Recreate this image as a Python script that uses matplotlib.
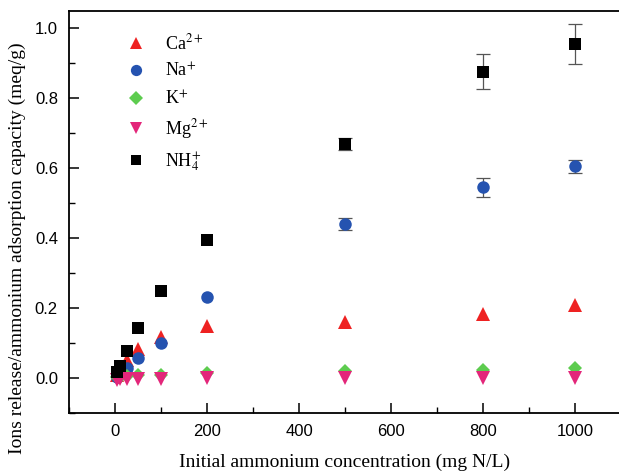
import matplotlib
matplotlib.use("Agg")
import matplotlib.pyplot as plt
from matplotlib.ticker import MultipleLocator

plt.rcParams['mathtext.fontset'] = 'stix'

# initial ammonium concentration (mg N/L)
conc = [5, 10, 25, 50, 100, 200, 500, 800, 1000]

ca = [0.010, 0.022, 0.052, 0.084, 0.117, 0.150, 0.162, 0.184, 0.209]
na = [0.005, 0.012, 0.029, 0.057, 0.102, 0.231, 0.441, 0.545, 0.605]
k = [0.003, 0.004, 0.006, 0.008, 0.008, 0.014, 0.022, 0.025, 0.028]
mg = [-0.004, -0.003, -0.002, -0.002, -0.001, 0.000, 0.000, 0.001, 0.002]
nh4 = [0.019, 0.034, 0.079, 0.143, 0.249, 0.395, 0.669, 0.876, 0.955]

# standard deviations (only visible at the three highest concentrations)
err_conc = [500, 800, 1000]
na_err = [0.018, 0.026, 0.019]
nh4_err = [0.018, 0.051, 0.058]

series = [
    (ca, None, '^', 9.5, '#ee2222', r'Ca$^{2+}$'),
    (na, na_err, 'o', 9.0, '#2553b0', r'Na$^{+}$'),
    (k, None, 'D', 7.5, '#5dcc4f', r'K$^{+}$'),
    (mg, None, 'v', 9.5, '#e3267a', r'Mg$^{2+}$'),
    (nh4, nh4_err, 's', 8.0, '#000000', r'NH$_4^{+}$'),
]

fig = plt.figure(figsize=(6.19, 4.75), dpi=100)
ax = fig.add_axes([0.1115, 0.1299, 0.8917, 0.8476])

for vals, err, mk, ms, col, lab in series:
    if err is not None:
        ax.errorbar(err_conc, vals[-3:], yerr=err, fmt='none', ecolor='#555555',
                    elinewidth=0.9, capsize=5, capthick=0.9, zorder=2)
    ax.plot(conc, vals, linestyle='none', marker=mk, color=col, markersize=ms,
            markeredgewidth=0, label=lab, zorder=3)

ax.set_xlim(-100, 1100)
ax.set_ylim(-0.1, 1.05)
ax.xaxis.set_major_locator(MultipleLocator(200))
ax.xaxis.set_minor_locator(MultipleLocator(100))
ax.yaxis.set_minor_locator(MultipleLocator(0.1))
ax.set_yticks([0.0, 0.2, 0.4, 0.6, 0.8, 1.0])
ax.set_yticklabels(['0.0', '0.2', '0.4', '0.6', '0.8', '1.0'])

ax.tick_params(which='major', direction='in', length=7, width=1.1,
               top=False, right=False, labelsize=12, pad=8)
ax.tick_params(which='minor', direction='in', length=4, width=1.0,
               top=False, right=False)
for lbl in ax.get_xticklabels() + ax.get_yticklabels():
    lbl.set_family('Liberation Sans')
for sp in ax.spines.values():
    sp.set_linewidth(1.3)

ax.set_xlabel('Initial ammonium concentration (mg N/L)', family='Liberation Serif',
              fontsize=14, labelpad=10)
ax.set_ylabel('Ions release/ammonium adsorption capacity (meq/g)',
              family='Liberation Serif', fontsize=14, va='center')
ax.yaxis.set_label_coords(-0.093, 0.41)

ax.legend(loc='upper left', bbox_to_anchor=(0.06, 0.985), frameon=False,
          prop={'family': 'Liberation Serif', 'size': 13},
          handletextpad=0.6, labelspacing=0.5, markerscale=0.9)

fig.savefig('out.png', dpi=100)
